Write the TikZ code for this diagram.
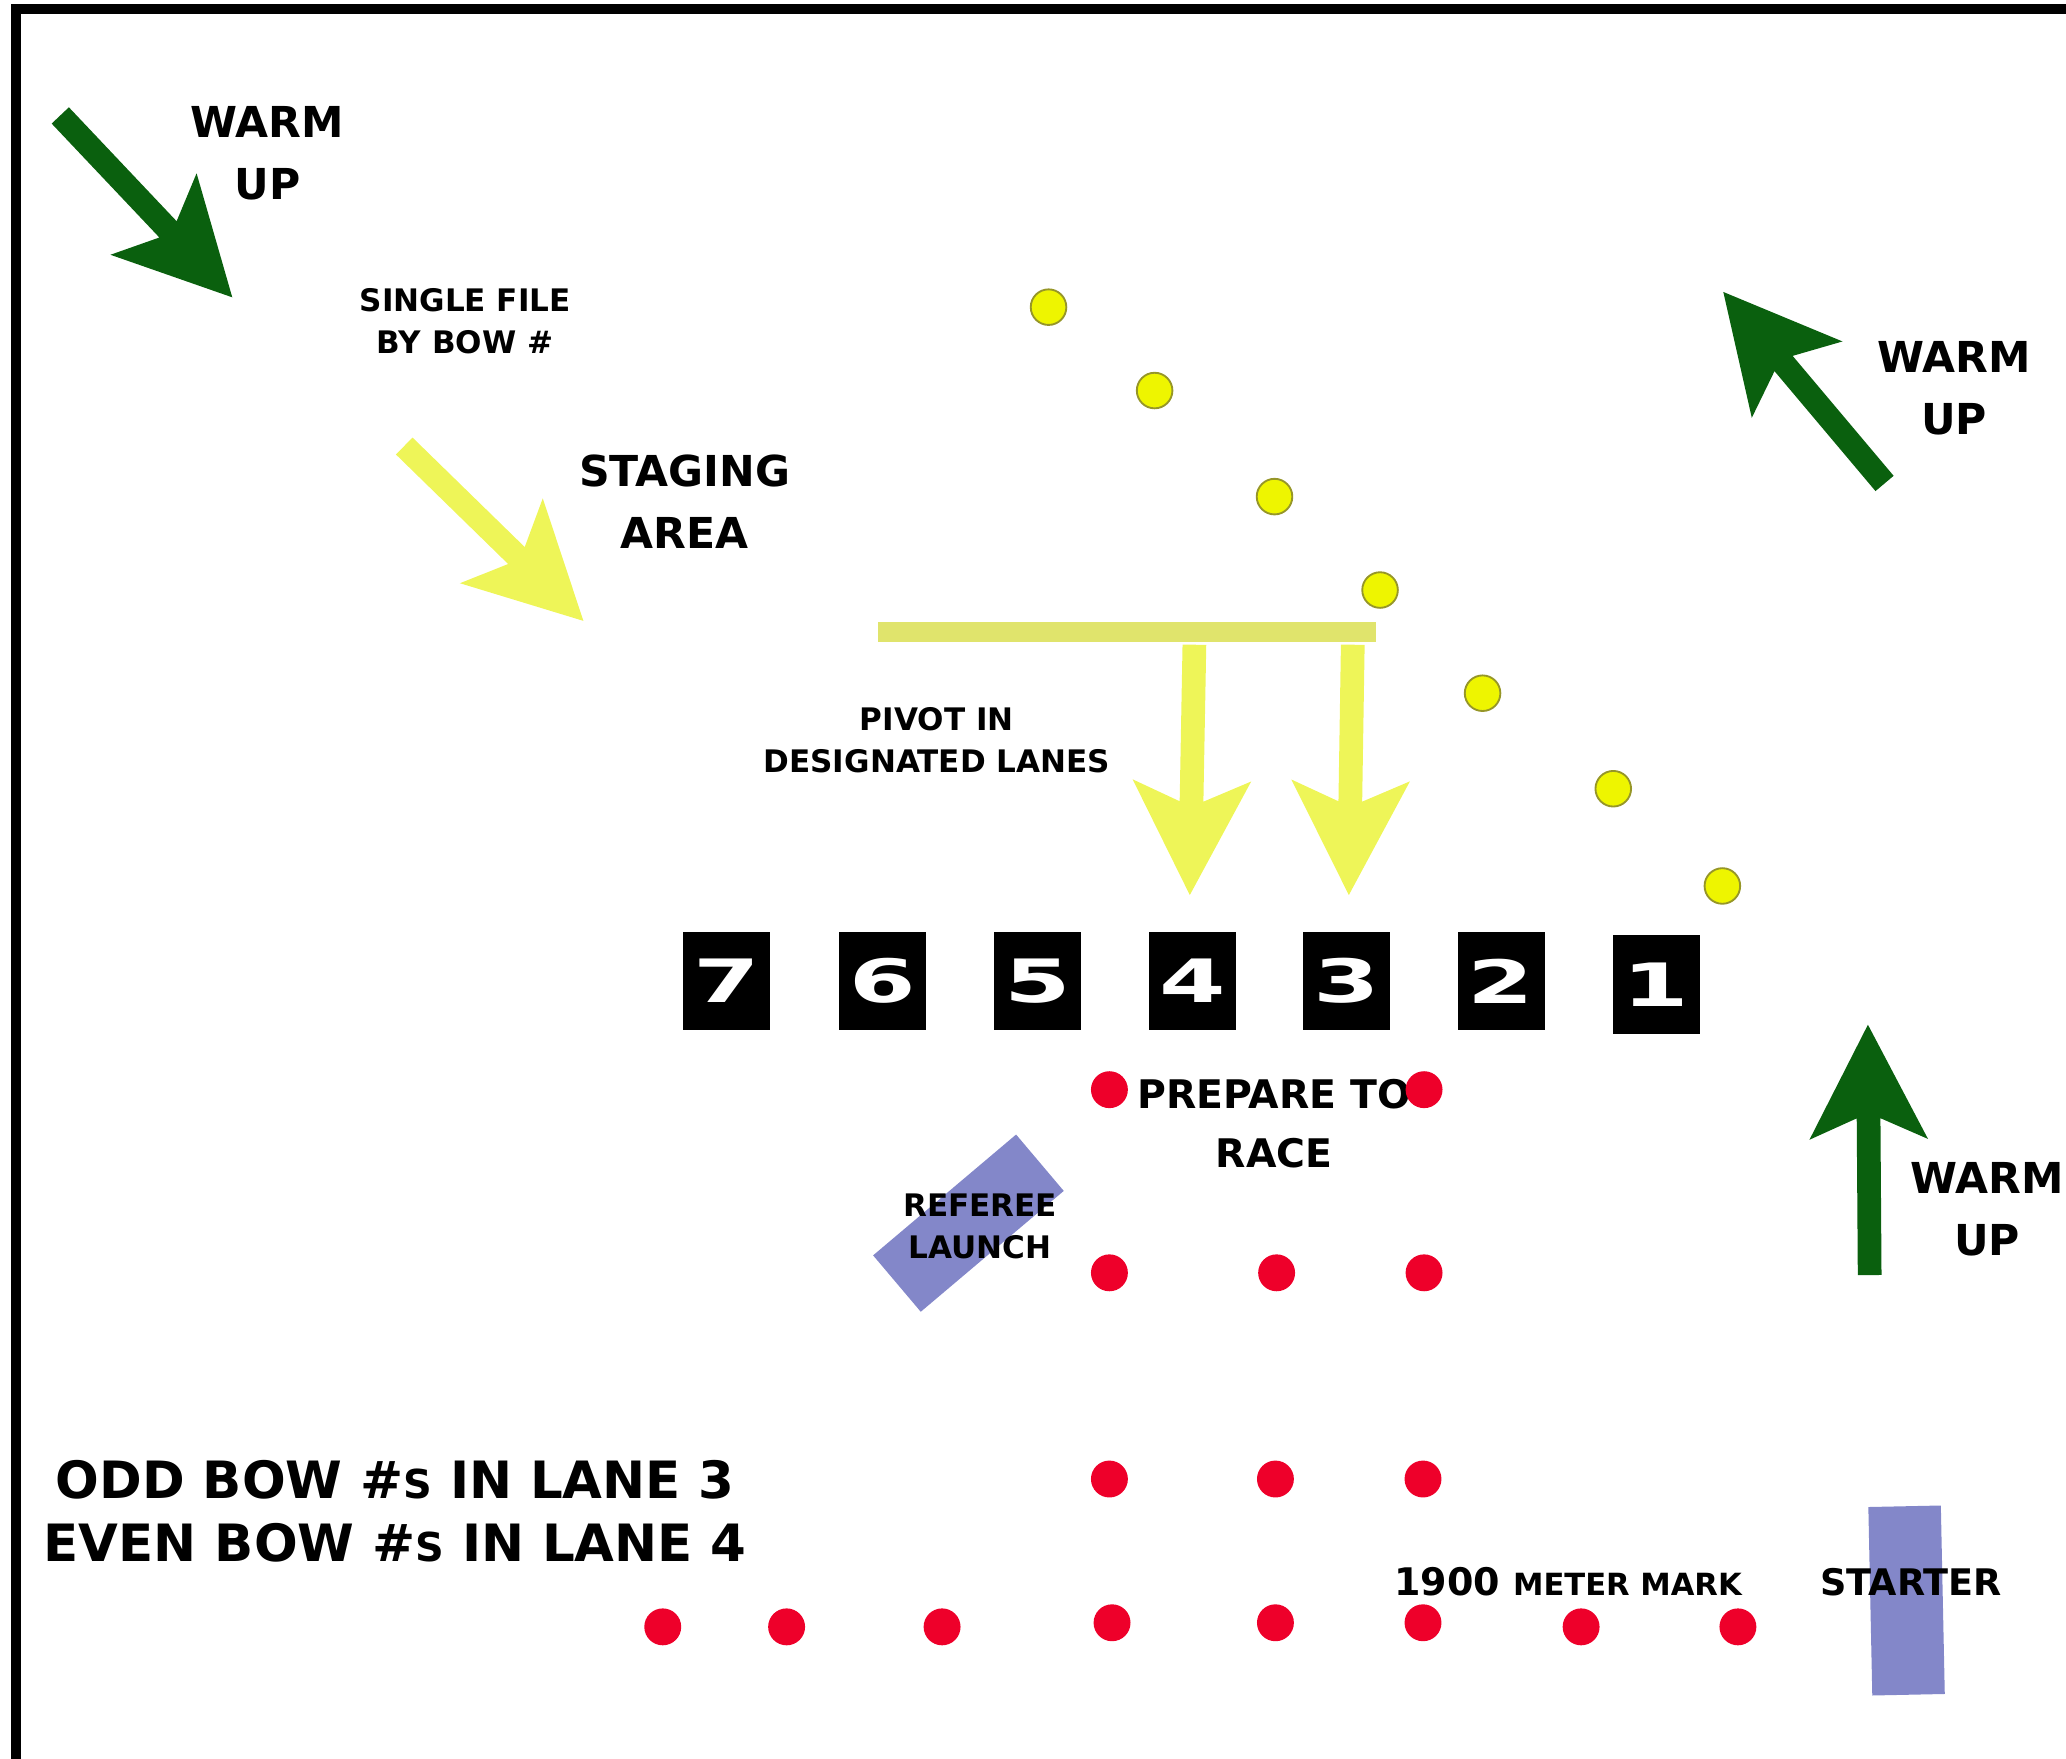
\documentclass[tikz,border=0pt]{standalone}
\usepackage{fontspec}
\setmainfont{DejaVu Sans}
\usetikzlibrary{positioning}
\definecolor{warmgreen}{RGB}{10,96,14}
\definecolor{stageyellow}{RGB}{238,245,88}
\definecolor{pivotbar}{RGB}{224,228,108}
\definecolor{buoyyellow}{RGB}{238,245,0}
\definecolor{buoyedge}{RGB}{150,150,40}
\definecolor{racered}{RGB}{238,0,42}
\definecolor{launchblue}{RGB}{131,135,201}
\newcommand{\widenum}[1]{\scalebox{1.6}[1]{#1}}
\newcommand{\lowS}{{\fontsize{8.6}{10}\selectfont S}}
\tikzset{
  pics/blkarrow/.style={code={
    \fill[#1] (0,-9) -- (119,-9) -- (103,-45) -- (190,0) -- (103,45) -- (119,9) -- (0,9) -- cycle;
  }},
  warmtxt/.style={font=\bfseries\fontsize{9.2}{13.4}\selectfont,align=center,inner sep=0pt},
  notetxt/.style={font=\bfseries\fontsize{6.7}{9.1}\selectfont,align=center,inner sep=0pt},
  lanetxt/.style={font=\bfseries\fontsize{11.1}{13.6}\selectfont,align=center,inner sep=0pt},
  numbox/.style={fill=black,text=white,minimum width=0.66cm,minimum height=0.75cm,
    inner sep=0pt,font=\bfseries\fontsize{12.9}{14}\selectfont},
  buoy/.style={circle,fill=buoyyellow,draw=buoyedge,line width=0.4pt,minimum size=0.27cm,inner sep=0pt},
  reddot/.style={circle,fill=racered,minimum size=0.28cm,inner sep=0pt},
  boat/.style={fill=launchblue,inner sep=0pt},
}
\begin{document}
\begin{tikzpicture}[x=0.01cm,y=-0.01cm]
  \useasboundingbox (0,0) rectangle (1568,1335);
  % frame (top and left only)
  \fill[black] (8,3) rectangle (1568,10.5);
  \fill[black] (8,3) rectangle (16,1335);

  % warm up arrows
  \pic[rotate=-46.6] at (45.75,87.6) {blkarrow=warmgreen};
  \pic[rotate=130.1] at (1430.3,366.9) {blkarrow=warmgreen};
  \pic[rotate=90.4] at (1419,967.7) {blkarrow=warmgreen};
  \node[warmtxt] (warmA) at (203,116.5) {WARM\\UP};
  \node[warmtxt] (warmB) at (1483,295) {WARM\\UP};
  \node[warmtxt] (warmC) at (1508,918) {WARM\\UP};

  % staging
  \node[notetxt] (single) at (353,243.5) {SINGLE FILE\\BY BOW \#};
  \pic[rotate=-44.3] at (306.8,338.5) {blkarrow=stageyellow};
  \node[warmtxt] (staging) at (519.5,380.5) {STAGING\\AREA};

  % buoys along the staging line
  \node[buoy] (y1) at (795.8,233.1) {};
  \node[buoy] (y2) at (876.3,296.4) {};
  \node[buoy] (y3) at (967.3,376.9) {};
  \node[buoy] (y4) at (1047.4,447.8) {};
  \node[buoy] (y5) at (1125.2,526.1) {};
  \node[buoy] (y6) at (1224.4,598.6) {};
  \node[buoy] (y7) at (1307.2,672.4) {};

  % pivot bar and lane arrows
  \fill[pivotbar] (666,472.4) rectangle (1044.3,487.1);
  \pic[rotate=-91.05] at (906.5,489.3) {blkarrow=stageyellow};
  \pic[rotate=-90.9] at (1026.7,489.3) {blkarrow=stageyellow};
  \node[notetxt] (pivot) at (711,562) {PIVOT IN\\DESIGNATED LANES};

  % lane numbers
  \node[numbox] (lane7) at (551.4,744.5) {\widenum{7}};
  \node[numbox] (lane6) at (669.9,744.5) {\widenum{6}};
  \node[numbox] (lane5) at (787.5,744.5) {\widenum{5}};
  \node[numbox] (lane4) at (904.9,744.5) {\widenum{4}};
  \node[numbox] (lane3) at (1021.8,744.5) {\widenum{3}};
  \node[numbox] (lane2) at (1139.2,744.5) {\widenum{2}};
  \node[numbox] (lane1) at (1257,747) {\widenum{1}};

  % referee launch
  \node[boat,rotate=40.2,minimum width=1.42cm,minimum height=0.56cm] (launch) at (735,928.3) {};
  \node[notetxt] (referee) at (744,930.5) {REFEREE\\LAUNCH};

  % prepare to race
  \node[warmtxt,font=\bfseries\fontsize{8.5}{12.7}\selectfont] (prepare) at (967,853) {PREPARE TO\\RACE};
  \node[reddot] (p1) at (842,827) {}; \node[reddot] (p3) at (1080.8,827) {};
  \node[reddot] (q1) at (842,966) {}; \node[reddot] (q2) at (968.9,966) {}; \node[reddot] (q3) at (1080.8,966) {};
  \node[reddot] (r1) at (842,1122.5) {}; \node[reddot] (r2) at (968,1122.5) {}; \node[reddot] (r3) at (1080,1122.5) {};

  % 1900 meter line
  \node[reddot] (s1) at (503,1234.7) {};
  \node[reddot] (s2) at (597,1234.7) {};
  \node[reddot] (s3) at (715,1234.7) {};
  \node[reddot] (s4) at (844,1231.6) {};
  \node[reddot] (s5) at (968,1231.6) {};
  \node[reddot] (s6) at (1080,1231.6) {};
  \node[reddot] (s7) at (1200,1234.7) {};
  \node[reddot] (s8) at (1319,1234.7) {};
  \node[anchor=base,inner sep=0pt,font=\bfseries\fontsize{8.2}{10}\selectfont] (meter) at (1190,1211)
    {1900 {\fontsize{6.6}{8}\selectfont METER MARK}};

  % starter
  \node[boat,rotate=1.2,minimum width=0.55cm,minimum height=1.43cm] (starter) at (1447,1214.7) {};
  \node[anchor=base,inner sep=0pt,font=\bfseries\fontsize{7.9}{10}\selectfont] (startxt) at (1450.5,1211) {STARTER};

  % lane rule
  \node[lanetxt] (lanes) at (300,1147.3) {ODD BOW \#\lowS{} IN LANE 3\\EVEN BOW \#\lowS{} IN LANE 4};
\end{tikzpicture}
\end{document}
